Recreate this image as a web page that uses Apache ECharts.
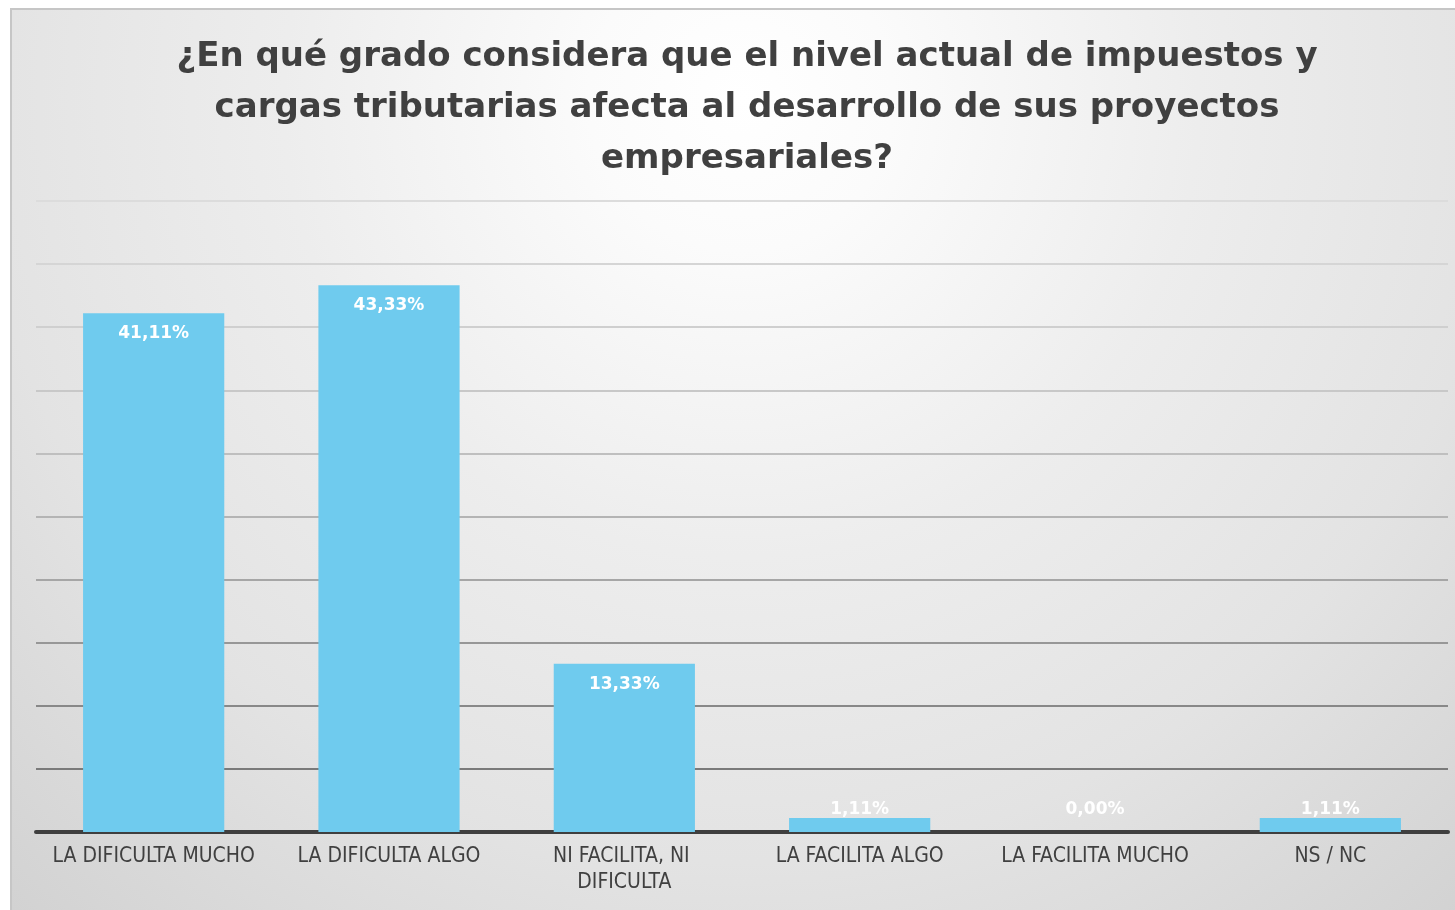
<!DOCTYPE html>
<html>
<head>
<meta charset="utf-8">
<style>
  html, body { margin: 0; padding: 0; background: #ffffff; }
  #chart { width: 1455px; height: 910px; }
</style>
<script src="https://cdn.jsdelivr.net/npm/echarts@6/dist/echarts.min.js"></script>
</head>
<body>
<div id="chart"></div>
<script>
// Survey answers and their shares (%)
const categories = [
  'LA DIFICULTA MUCHO',
  'LA DIFICULTA ALGO',
  'NI FACILITA, NI DIFICULTA',
  'LA FACILITA ALGO',
  'LA FACILITA MUCHO',
  'NS / NC'
];
const shares = [41.11, 43.33, 13.33, 1.11, 0.00, 1.11];
const titleText = '¿En qué grado considera que el nivel actual de impuestos y\ncargas tributarias afecta al desarrollo de sus proyectos\nempresariales?';

const TITLE_FONT = '"DejaVu Sans", sans-serif';
const AXIS_FONT = '"DejaVu Sans Condensed", "DejaVu Sans", sans-serif';
const LABEL_FONT = '"DejaVu Sans", sans-serif';

// Gridlines fade from dark near the baseline to pale at the top
const gridColors = ['#6f6f6f', '#7a7a7a', '#888888', '#979797', '#a6a6a6',
                    '#b4b4b4', '#bfbfbf', '#c8c8c8', '#cfcfcf', '#d5d5d5', '#dcdcdc'];

const fmt = v => v.toFixed(2).replace('.', ',') + '%';

const barData = shares.map(v => ({
  value: v,
  label: v < 5
    ? { position: 'insideBottom', distance: 14 }
    : { position: 'insideTop', distance: 12 }
}));

const chart = echarts.init(document.getElementById('chart'), null, { renderer: 'canvas' });
chart.setOption({
  animation: false,
  backgroundColor: '#ffffff',
  graphic: [{
    type: 'rect',
    z: -10,
    silent: true,
    shape: { x: 11, y: 9, width: 1460, height: 906 },
    style: {
      fill: new echarts.graphic.RadialGradient(0.5, 0.1, 1.2, [
        { offset: 0, color: '#ffffff' },
        { offset: 0.14, color: '#fbfbfb' },
        { offset: 0.42, color: '#ededed' },
        { offset: 0.7, color: '#e3e3e3' },
        { offset: 1, color: '#d2d2d2' }
      ]),
      stroke: '#c6c6c6',
      lineWidth: 2
    }
  }],
  title: {
    text: titleText,
    left: 742,
    textAlign: 'center',
    top: 27,
    textStyle: {
      fontFamily: TITLE_FONT,
      fontSize: 34,
      fontWeight: 'bold',
      color: '#404040',
      lineHeight: 51
    }
  },
  grid: { left: 36, right: 7, top: 201, bottom: 78, containLabel: false },
  xAxis: {
    type: 'category',
    data: categories,
    axisLine: { show: true, lineStyle: { color: '#3f3f3f', width: 4 } },
    axisTick: { show: false },
    axisLabel: {
      interval: 0,
      margin: 12,
      fontFamily: AXIS_FONT,
      fontSize: 21,
      color: '#404040',
      lineHeight: 26,
      width: 222,
      overflow: 'break'
    }
  },
  yAxis: {
    type: 'value',
    min: 0,
    max: 50,
    interval: 5,
    axisLabel: { show: false },
    axisLine: { show: false },
    axisTick: { show: false },
    splitLine: { show: true, lineStyle: { color: gridColors, width: 2 } }
  },
  series: [{
    type: 'bar',
    data: barData,
    barCategoryGap: '40%',
    itemStyle: {
      color: '#6fcbee'
    },
    label: {
      show: true,
      formatter: p => fmt(p.value),
      fontFamily: LABEL_FONT,
      fontSize: 17,
      fontWeight: 'bold',
      color: '#ffffff'
    }
  }]
});
</script>
</body>
</html>
